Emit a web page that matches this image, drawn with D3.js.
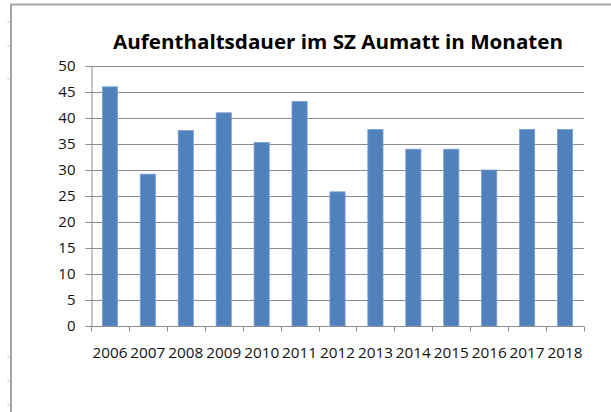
<!DOCTYPE html>
<html lang="de">
<head>
<meta charset="UTF-8">
<title>Aufenthaltsdauer</title>
<script src="https://d3js.org/d3.v7.min.js"></script>
<style>
  body { margin: 0; background: #fff; }
  svg { display: block; }
</style>
</head>
<body>
<svg id="chart"></svg>
<script>
// data
const years = ["2006", "2007", "2008", "2009", "2010", "2011", "2012", "2013", "2014", "2015", "2016", "2017", "2018"];
const months = [46.0, 29.2, 37.6, 41.0, 35.3, 43.2, 25.8, 37.8, 34.0, 34.0, 30.0, 37.8, 37.8];
const yTicks = [0, 5, 10, 15, 20, 25, 30, 35, 40, 45, 50];
const title = "Aufenthaltsdauer im SZ Aumatt in Monaten";

const width = 611, height = 412;
const margin = {top: 66, right: 27, bottom: 86, left: 91};
const font = "'Open Sans', 'Noto Sans', sans-serif";
const gridColor = "#8c8c8c";

const svg = d3.select("#chart").attr("width", width).attr("height", height);

// outer frame (the worksheet chart border, cut off at right/bottom)
svg.append("path")
    .attr("d", `M11,${height} V4.5 H${width}`)
    .attr("fill", "none")
    .attr("stroke", "#a6a6a6")
    .attr("stroke-width", 2);

// faint row marks to the left of the frame
svg.append("g").selectAll("line")
    .data([22, 46, 79, 357, 381, 405])
    .join("line")
    .attr("x1", 7).attr("x2", 10)
    .attr("y1", d => d).attr("y2", d => d)
    .attr("stroke", "#d0d0d0");

const x = d3.scaleBand()
    .domain(years)
    .range([margin.left, width - margin.right])
    .paddingInner(0.6)
    .paddingOuter(0.3);

const y = d3.scaleLinear()
    .domain([0, 50])
    .range([height - margin.bottom, margin.top]);

// gridlines
svg.append("g").selectAll("line")
    .data(yTicks.filter(d => d > 0))
    .join("line")
    .attr("x1", margin.left).attr("x2", width - margin.right)
    .attr("y1", d => Math.round(y(d)) + 0.5).attr("y2", d => Math.round(y(d)) + 0.5)
    .attr("stroke", gridColor)
    .attr("stroke-width", 1.2);

// bars
svg.append("g").selectAll("rect")
    .data(years)
    .join("rect")
    .attr("x", (d) => x(d))
    .attr("width", x.bandwidth())
    .attr("y", (d, i) => y(months[i]))
    .attr("height", (d, i) => y(0) - y(months[i]))
    .attr("fill", "#4f81bd")
    .attr("stroke", "#7a9fd0")
    .attr("stroke-width", 0.8);

// y axis
const yAxis = svg.append("g")
    .attr("transform", `translate(${margin.left + 0.5},0)`)
    .call(d3.axisLeft(y).tickValues(yTicks).tickSize(6).tickPadding(10).tickSizeOuter(0));
yAxis.select(".domain").attr("stroke", gridColor);
yAxis.selectAll(".tick line").attr("stroke", gridColor);
yAxis.selectAll("text")
    .attr("fill", "#111")
    .style("font-family", font)
    .style("font-size", "15px");

// x axis: ticks sit on category boundaries, like Excel
const boundaries = years.map(d => x(d) - x.step() * x.paddingInner() / 2);
boundaries.push(width - margin.right);

const xAxis = svg.append("g")
    .attr("transform", `translate(0,${Math.round(y(0)) + 0.5})`);
xAxis.append("line")
    .attr("x1", margin.left).attr("x2", width - margin.right)
    .attr("stroke", gridColor)
    .attr("stroke-width", 1.2);
xAxis.selectAll(".xtick")
    .data(boundaries)
    .join("line")
    .attr("class", "xtick")
    .attr("x1", d => Math.round(d) + 0.5).attr("x2", d => Math.round(d) + 0.5)
    .attr("y1", 0).attr("y2", 5)
    .attr("stroke", gridColor);
xAxis.selectAll(".xlabel")
    .data(years)
    .join("text")
    .attr("class", "xlabel")
    .attr("x", d => x(d) + x.bandwidth() / 2)
    .attr("y", 31)
    .attr("text-anchor", "middle")
    .attr("fill", "#111")
    .style("font-family", font)
    .style("font-size", "15px")
    .attr("textLength", 35)
    .attr("lengthAdjust", "spacingAndGlyphs")
    .text(d => d);

// title
svg.append("text")
    .attr("x", 338)
    .attr("y", 49)
    .attr("text-anchor", "middle")
    .attr("fill", "#000")
    .style("font-family", font)
    .style("font-weight", "bold")
    .style("font-size", "19px")
    .attr("textLength", 450)
    .attr("lengthAdjust", "spacingAndGlyphs")
    .text(title);
</script>
</body>
</html>
